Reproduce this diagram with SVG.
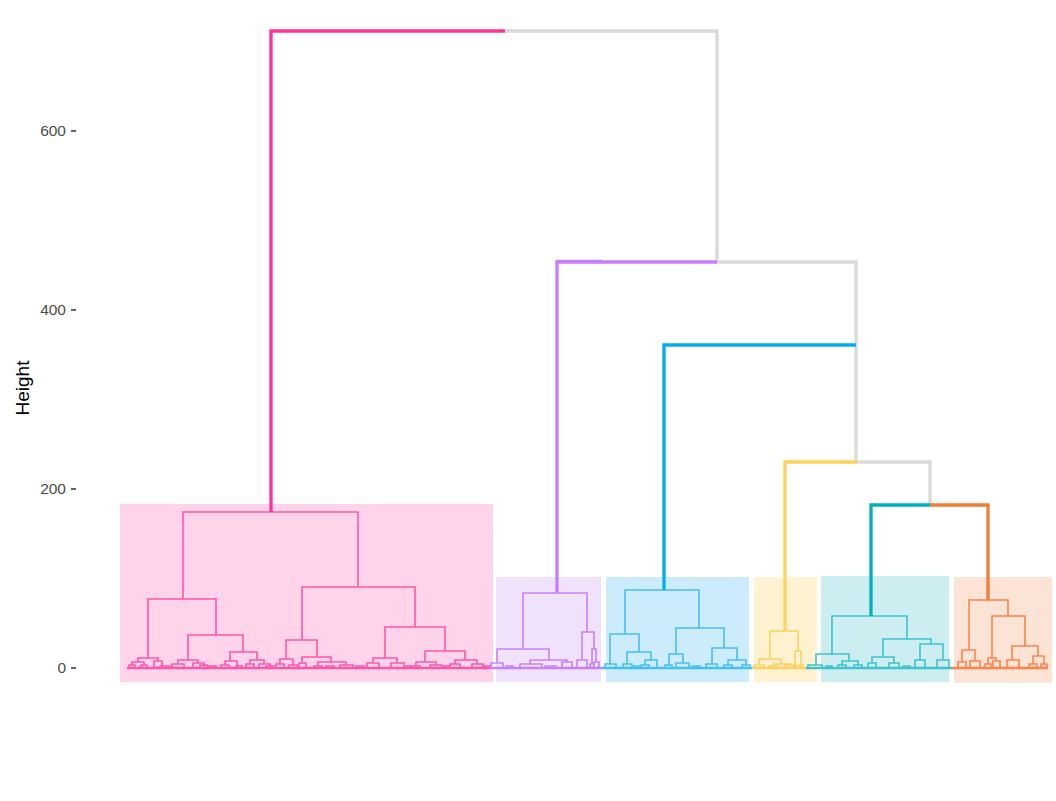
<svg xmlns="http://www.w3.org/2000/svg" width="1056" height="801" viewBox="0 0 1056 801">
<style>
.tick{font-family:"Liberation Sans",Arial,sans-serif;font-size:15.5px;fill:#4D4D4D}
.ttl{font-family:"Liberation Sans",Arial,sans-serif;font-size:19px;fill:#000}
.tm{stroke:#333;stroke-width:1.5}
path{fill:none;stroke-linecap:butt;stroke-linejoin:miter}
.thick{stroke-width:3.3}
.thin{stroke-width:1.6}
.base{stroke-width:2.4}
.pk{stroke:#FF3399}.pkt{stroke:#FF55AB}
.pu{stroke:#C77CFF}.put{stroke:#C980FA}
.bl{stroke:#00AEEF}.blt{stroke:#45C0F5}
.ye{stroke:#FFD25C}.yet{stroke:#FCD160}
.te{stroke:#00B2C0}.tet{stroke:#3EC3CC}
.or{stroke:#F07C36}.ort{stroke:#FF834A}
.gr{stroke:#D9D9D9}
</style>
<rect width="1056" height="801" fill="#FFFFFF"/>
<g id="axis">
<line class="tm" x1="71" y1="131" x2="76" y2="131"/>
<line class="tm" x1="71" y1="310" x2="76" y2="310"/>
<line class="tm" x1="71" y1="489" x2="76" y2="489"/>
<line class="tm" x1="71" y1="668" x2="76" y2="668"/>
<text class="tick" x="66" y="136" text-anchor="end">600</text>
<text class="tick" x="66" y="315" text-anchor="end">400</text>
<text class="tick" x="66" y="494" text-anchor="end">200</text>
<text class="tick" x="66" y="673" text-anchor="end">0</text>
<text class="ttl" transform="translate(29,388) rotate(-90)" text-anchor="middle">Height</text>
</g>
<g id="boxes">
<rect x="120" y="504" width="373" height="178" fill="#FFD4EA"/>
<rect x="496" y="577" width="105" height="105" fill="#F1E2FC"/>
<rect x="606" y="577" width="143" height="105" fill="#CCEBFB"/>
<rect x="754" y="577" width="63" height="105" fill="#FFF2D0"/>
<rect x="821" y="576" width="128" height="106" fill="#CCEEF0"/>
<rect x="954" y="577" width="98" height="106" fill="#FBE4D6"/>
</g>
<g id="cluster-pink">
<path class="thin pkt" d="M183 599 V512 H358 V587 M148 658 V599 H216 V635 M188 660 V635 H243 V652 M230 661 V652 H257 V660 M302 640 V587 H415 V627 M286 659 V640 H317 V657 M385 658 V627 H445 V651 M425 662 V651 H465 V660 M138 662 V658 H158 V661 M132 665 V662 H144 V665 M154 668 V661 H162 V666 M129 668 V665 H135 V668 M141 668 V665 H147 V668 M160 668 V666 H164 V668 M178 664 V660 H198 V663 M172 668 V664 H184 V668 M193 668 V663 H204 V668 M200 668 V665 H207 V668 M225 665 V661 H237 V668 M221 668 V665 H229 V668 M250 664 V660 H264 V664 M246 668 V664 H254 V668 M259 668 V664 H270 V668 M280 664 V659 H293 V665 M276 668 V664 H284 V668 M289 668 V665 H297 V668 M302 663 V657 H331 V662 M299 668 V663 H306 V668 M318 666 V662 H346 V665 M314 668 V666 H322 V668 M340 668 V665 H353 V668 M373 663 V658 H397 V663 M367 668 V663 H379 V668 M391 668 V663 H404 V668 M416 666 V662 H436 V665 M412 668 V666 H420 V668 M430 668 V665 H442 V668 M455 664 V660 H477 V664 M450 668 V664 H460 V668 M472 668 V664 H483 V668 M484 668 V666 H490 V668 M166 668 V666 H172 V668 M208 668 V666 H216 V668 M236 668 V666 H242 V668 M266 668 V666 H274 V668 M326 668 V666 H334 V668 M356 668 V666 H364 V668 M406 668 V666 H412 V668 M444 668 V666 H450 V668"/>
<path class="base pkt" d="M127 668 H491"/>
</g>
<g id="cluster-purple">
<path class="thin put" d="M523 649 V593 H587 V632 M497 663 V649 H549 V660 M491 668 V663 H503 V668 M530 664 V660 H567 V662 M520 668 V664 H542 V668 M562 668 V662 H572 V668 M582 660 V632 H594 V649 M577 668 V660 H587 V668 M592 664 V649 H596 V662 M590 668 V664 H594 V668 M594 668 V662 H599 V668 M506 668 V666 H513 V668 M545 668 V666 H556 V668"/>
<path class="base put" d="M490 668 H601"/>
</g>
<g id="cluster-blue">
<path class="thin blt" d="M625 634 V590 H699 V628 M610 664 V634 H639 V652 M605 668 V664 H616 V668 M627 664 V652 H651 V660 M623 668 V664 H632 V668 M645 665 V660 H657 V668 M641 668 V665 H649 V668 M676 654 V628 H724 V648 M669 665 V654 H683 V663 M665 668 V665 H672 V668 M676 668 V663 H689 V668 M712 664 V648 H737 V660 M706 668 V664 H717 V668 M728 665 V660 H746 V665 M724 668 V665 H732 V668 M742 668 V665 H750 V668 M634 668 V666 H640 V668 M692 668 V666 H700 V668"/>
<path class="base blt" d="M601 668 H752"/>
</g>
<g id="cluster-yellow">
<path class="thin yet" d="M770 659 V631 H798 V651 M759 665 V659 H781 V664 M754 668 V665 H764 V668 M773 666 V664 H790 V665 M768 668 V666 H778 V668 M785 668 V665 H795 V668 M795 666 V651 H801 V665 M793 668 V666 H797 V668 M799 668 V665 H803 V668"/>
<path class="base yet" d="M752 668 H806"/>
</g>
<g id="cluster-teal">
<path class="thin tet" d="M832 654 V616 H907 V639 M816 665 V654 H849 V661 M808 668 V665 H822 V668 M842 665 V661 H858 V665 M838 668 V665 H846 V668 M854 668 V665 H862 V668 M883 657 V639 H931 V644 M872 663 V657 H894 V663 M868 668 V663 H876 V668 M889 668 V663 H899 V668 M920 660 V644 H943 V660 M915 668 V660 H925 V668 M937 668 V660 H949 V668 M903 668 V666 H910 V668 M826 668 V666 H832 V668"/>
<path class="base tet" d="M806 668 H952"/>
</g>
<g id="cluster-orange">
<path class="thin ort" d="M969 650 V600 H1008 V616 M962 662 V650 H975 V661 M958 668 V662 H966 V668 M970 668 V661 H980 V668 M992 658 V616 H1025 V646 M988 664 V658 H996 V661 M985 668 V664 H991 V668 M993 668 V661 H1000 V668 M1012 660 V646 H1038 V656 M1007 668 V660 H1019 V668 M1033 664 V656 H1044 V664 M1029 668 V664 H1037 V668 M1041 668 V664 H1047 V668"/>
<path class="base ort" d="M952 668 H1048"/>
</g>
<g id="connectors">
<path class="thick gr" d="M505 31 H717 V262 H856 V462 H930 V505"/>
<path class="thick pk" d="M271 512 V31 H505"/>
<path class="thick pu" d="M557 593 V262 H717"/>
<path class="thin pu" d="M557 260.5 H602"/>
<path class="thick bl" d="M664 590 V345 H856"/>
<path class="thick ye" d="M785 631 V462 H857"/>
<path class="thick te" d="M871 616 V505 H930"/>
<path class="thick or" d="M930 505 H988 V600"/>
</g>
</svg>
